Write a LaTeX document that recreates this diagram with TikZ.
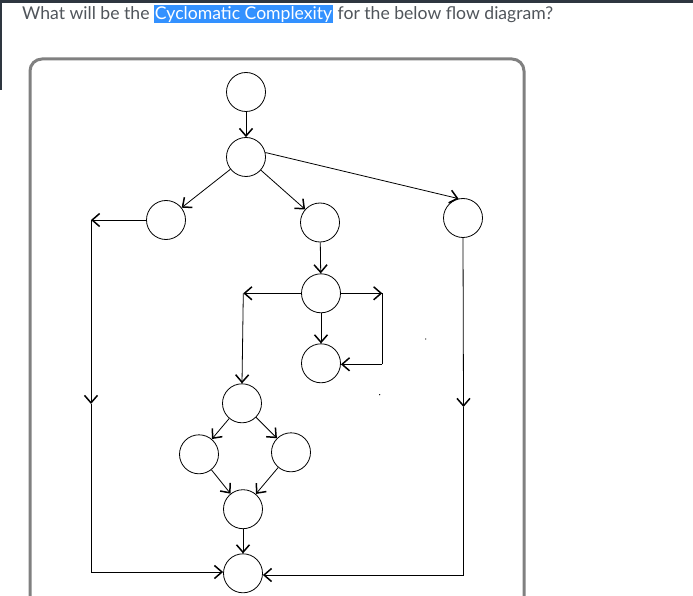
\documentclass[tikz,border=0pt]{standalone}
\usepackage{fontspec}
\setmainfont{Lato}
\usetikzlibrary{arrows.meta}
\definecolor{txt}{HTML}{50555B}
\definecolor{hl}{HTML}{3391FF}
\definecolor{bar}{HTML}{2E3640}
\definecolor{frame}{HTML}{808080}
\tikzset{
  vtx/.style={circle, draw, line width=0.8pt, minimum size=39pt, inner sep=0pt},
  edge/.style={line width=0.8pt},
  arr/.style={edge, -{Straight Barb[length=7.5pt,width=13pt,line width=1.5pt]}},
  ttl/.style={inner sep=0pt, anchor=base west, text=txt, font=\fontsize{17.6}{20}\selectfont},
}
\begin{document}
\begin{tikzpicture}[x=1pt,y=-1pt]
\useasboundingbox (0,0) rectangle (693,596);
\fill[white] (0,0) rectangle (693,596);
% page chrome
\fill[bar] (0,0) rectangle (693,2.7);
\fill[bar] (0,0) rectangle (2,90);
% title
\node[ttl] (t1) at (22,19.3) {What will be the};
\node[ttl, anchor=base west, fill=hl, text=white, inner xsep=1pt, text height=14.6pt, text depth=4pt] (t2) at ([xshift=4pt]t1.base east) {Cyclomatic Complexity};
\node[ttl] (t3) at ([xshift=4pt]t2.base east) {for the below flow diagram?};
% frame
\draw[frame, line width=3pt, rounded corners=12pt] (30,600) -- (30,59) -- (524,59) -- (524,600);
% nodes
\node[vtx] (n1) at (246,92) {};
\node[vtx] (n2) at (246,157) {};
\node[vtx] (n3) at (166,220) {};
\node[vtx] (n4) at (320,222.5) {};
\node[vtx] (n5) at (463,218) {};
\node[vtx] (n6) at (321,293.3) {};
\node[vtx] (n7) at (321,363.3) {};
\node[vtx] (n8) at (242,403.3) {};
\node[vtx] (n9) at (199,454.3) {};
\node[vtx] (n10) at (291,452.3) {};
\node[vtx] (n11) at (243,509.2) {};
\node[vtx] (n12) at (243,573.3) {};
% corner coordinates
\coordinate (a) at (91,220);
\coordinate (a2) at (91,572);
\coordinate (am) at (91,404);
\coordinate (b) at (463.5,575);
\coordinate (bm) at (463.5,407);
\coordinate (c) at (243.3,293.3);
\coordinate (d) at (382.3,293.3);
\coordinate (d2) at (382.3,364.3);
% edges
\draw[arr] (n1) -- (n2);
\draw[arr] (n2) -- (n3);
\draw[arr] (n2) -- (n4);
\draw[arr] (n2.13) -- (n5.103);
\draw[arr] (n3.west) -- (a);
\draw[arr] (a) -- (am);
\draw[edge] (am) -- (a2);
\draw[arr] (a2) -- (n12.west |- a2);
\draw[arr] (n5.south) -- (bm);
\draw[edge] (bm) -- (b);
\draw[arr] (b) -- (n12.east |- b);
\draw[arr] (n4) -- (n6);
\draw[arr] (n6) -- (n7);
\draw[arr] (n6.west) -- (c);
\draw[arr] (c) -- (n8.north);
\draw[arr] (n6.east) -- (d);
\draw[edge] (d) -- (d2);
\draw[arr] (d2) -- (n7.east |- d2);
\draw[arr] (n8) -- (n9);
\draw[arr] (n8) -- (n10);
\draw[arr] (n9) -- (n11);
\draw[arr] (n10) -- (n11);
\draw[arr] (n11) -- (n12);
% stray dots
\fill (379.7,394.7) circle (0.7);
\fill (425.7,339) circle (0.7);
\end{tikzpicture}
\end{document}
